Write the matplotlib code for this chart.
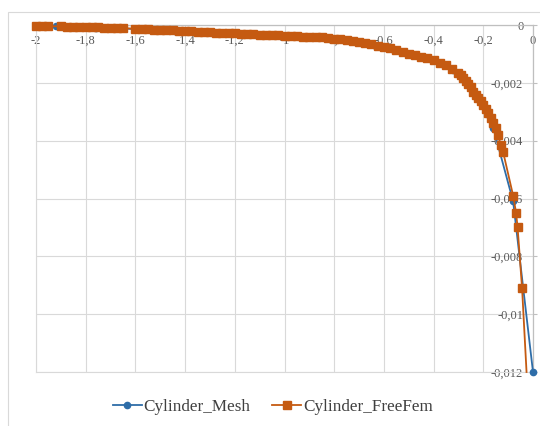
import matplotlib
matplotlib.use("Agg")
import matplotlib.pyplot as plt
from matplotlib.patches import Rectangle

# Cylinder_Mesh (blue, circles)
mesh_x = [-2.00, -1.92, -1.84, -1.76, -1.68, -1.60, -1.52, -1.44, -1.36, -1.28,
          -1.20, -1.12, -1.04, -0.96, -0.88, -0.80, -0.72, -0.64, -0.56, -0.48,
          -0.40, -0.32, -0.24, -0.16, -0.08, 0.00]
mesh_y = [-0.03e-3, -0.05e-3, -0.07e-3, -0.09e-3, -0.11e-3, -0.14e-3, -0.17e-3, -0.20e-3,
          -0.23e-3, -0.26e-3, -0.29e-3, -0.32e-3, -0.35e-3, -0.38e-3, -0.42e-3, -0.47e-3,
          -0.56e-3, -0.70e-3, -0.85e-3, -1.03e-3, -1.20e-3, -1.56e-3, -2.35e-3, -3.55e-3,
          -6.10e-3, -12.0e-3]

# Cylinder_FreeFem (orange, squares); last point has no visible marker
freefem_x = [-2.000, -1.975, -1.950, -1.900, -1.875, -1.850, -1.825, -1.800, -1.775, -1.750,
             -1.725, -1.700, -1.675, -1.650, -1.600, -1.575, -1.550, -1.525, -1.500, -1.475,
             -1.450, -1.425, -1.400, -1.375, -1.350, -1.325, -1.300, -1.275, -1.250, -1.225,
             -1.200, -1.175, -1.150, -1.125, -1.100, -1.075, -1.050, -1.025, -1.000, -0.975,
             -0.950, -0.925, -0.900, -0.875, -0.850, -0.825, -0.800, -0.775, -0.750, -0.725,
             -0.700, -0.675, -0.650, -0.625, -0.600, -0.575, -0.550, -0.525, -0.500, -0.475,
             -0.450, -0.425, -0.400, -0.375, -0.350, -0.325, -0.300, -0.290, -0.280, -0.270,
             -0.260, -0.250, -0.240, -0.230, -0.220, -0.210, -0.200, -0.190, -0.180, -0.170,
             -0.160, -0.150, -0.140, -0.130, -0.120, -0.080, -0.068, -0.062, -0.044, -0.026]
freefem_y = [-0.03e-3, -0.035e-3, -0.04e-3, -0.05e-3, -0.055e-3, -0.06e-3, -0.065e-3, -0.07e-3, -0.075e-3, -0.08e-3,
             -0.09e-3, -0.095e-3, -0.10e-3, -0.11e-3, -0.13e-3, -0.14e-3, -0.15e-3, -0.16e-3, -0.17e-3, -0.18e-3,
             -0.19e-3, -0.20e-3, -0.21e-3, -0.22e-3, -0.23e-3, -0.24e-3, -0.25e-3, -0.26e-3, -0.27e-3, -0.28e-3,
             -0.29e-3, -0.30e-3, -0.31e-3, -0.32e-3, -0.33e-3, -0.34e-3, -0.35e-3, -0.36e-3, -0.37e-3, -0.38e-3,
             -0.39e-3, -0.40e-3, -0.41e-3, -0.42e-3, -0.43e-3, -0.45e-3, -0.47e-3, -0.49e-3, -0.52e-3, -0.55e-3,
             -0.58e-3, -0.62e-3, -0.66e-3, -0.71e-3, -0.76e-3, -0.81e-3, -0.87e-3, -0.93e-3, -0.99e-3, -1.05e-3,
             -1.10e-3, -1.15e-3, -1.20e-3, -1.30e-3, -1.40e-3, -1.52e-3, -1.65e-3, -1.72e-3, -1.85e-3, -1.95e-3,
             -2.05e-3, -2.15e-3, -2.30e-3, -2.42e-3, -2.52e-3, -2.62e-3, -2.75e-3, -2.90e-3, -3.05e-3, -3.20e-3,
             -3.40e-3, -3.55e-3, -3.80e-3, -4.15e-3, -4.40e-3, -5.90e-3, -6.50e-3, -7.00e-3, -9.10e-3, -12.0e-3]

x_ticks = [-2.0, -1.8, -1.6, -1.4, -1.2, -1.0, -0.8, -0.6, -0.4, -0.2, 0.0]
x_labels = ['-2', '-1,8', '-1,6', '-1,4', '-1,2', '-1', '-0,8', '-0,6', '-0,4', '-0,2', '0']
y_ticks = [-0.012, -0.010, -0.008, -0.006, -0.004, -0.002, 0.0]
y_labels = ['-0,012', '-0,01', '-0,008', '-0,006', '-0,004', '-0,002', '0']

plt.rcParams['font.family'] = ['Liberation Serif', 'DejaVu Serif']

blue = '#2E6DA8'
orange = '#C55A11'
grid_c = '#d9d9d9'
axis_c = '#bfbfbf'
text_c = '#595959'

fig = plt.figure(figsize=(5.4, 4.26), dpi=100)
ax = fig.add_axes([36 / 540, 1 - 372 / 426, (533 - 36) / 540, (372 - 25) / 426])

ax.plot(mesh_x, mesh_y, color=blue, lw=1.3, marker='o', ms=4.5,
        label='Cylinder_Mesh', zorder=3, clip_on=False)
ax.plot(freefem_x, freefem_y, color=orange, lw=1.3, marker='s', ms=5.5,
        markevery=slice(0, len(freefem_x) - 1),
        label='Cylinder_FreeFem', zorder=4, clip_on=False)

ax.set_xlim(-2, 0)
ax.set_ylim(-0.012, 0)
ax.set_xticks(x_ticks)
ax.set_xticklabels(x_labels)
ax.set_yticks(y_ticks)
ax.set_yticklabels(y_labels)

ax.grid(True, color=grid_c, lw=0.8)
ax.set_axisbelow(True)

# axes cross at the top right (y=0 and x=0)
for s in ['left', 'bottom']:
    ax.spines[s].set_color(grid_c)
    ax.spines[s].set_linewidth(0.8)
for s in ['top', 'right']:
    ax.spines[s].set_color(axis_c)
    ax.spines[s].set_linewidth(0.9)

ax.tick_params(axis='x', bottom=False, labelbottom=False, top=True, labeltop=True,
               direction='out', length=0, pad=-16, labelsize=9, labelcolor=text_c)
ax.tick_params(axis='y', left=False, labelleft=False, right=True, labelright=True,
               direction='out', length=3, color=axis_c, pad=-10, labelsize=9,
               labelcolor=text_c)
for lab in ax.get_yticklabels():
    lab.set_horizontalalignment('right')

fig.legend(loc='center', bbox_to_anchor=(0.505, 0.045), ncol=2, frameon=False,
           fontsize=12.3, labelcolor='#404040', handlelength=1.7,
           handletextpad=0.1, columnspacing=1.3)

# outer chart frame
fig.add_artist(Rectangle((8 / 540, -0.1), 1.0, 1.1 - 12 / 426,
                         transform=fig.transFigure, fill=False,
                         edgecolor=grid_c, lw=0.8))

fig.savefig('out.png', dpi=100)
